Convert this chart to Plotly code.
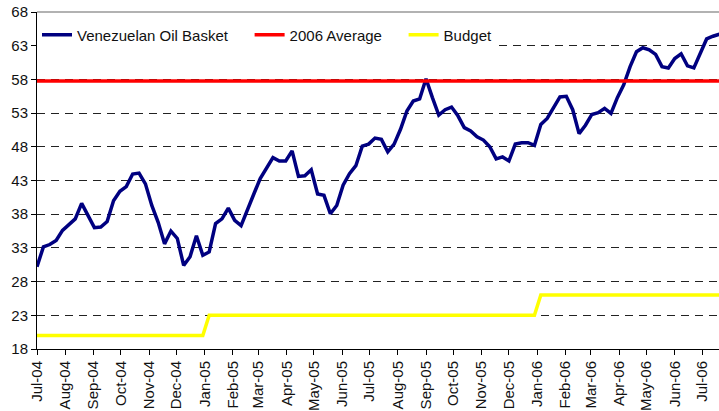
import pandas as pd
import plotly.graph_objects as go

# Weekly observations starting 2004-07-01
start_date = "2004-07-01"
oil_basket = [
    30.2, 33.15, 33.5, 34.1, 35.6, 36.5, 37.3, 39.6, 37.8, 36.0,
    36.1, 36.9, 40.0, 41.4, 42.1, 43.96, 44.1, 42.5, 39.3, 36.8,
    33.6, 35.5, 34.4, 30.4, 31.7, 34.8, 31.9, 32.4, 36.6, 37.3,
    38.9, 37.1, 36.3, 38.5, 41.0, 43.3, 44.8, 46.4, 45.9, 45.9,
    47.4, 43.6, 43.7, 44.6, 41.0, 40.8, 38.06, 39.3, 42.3, 44.0,
    45.2, 48.1, 48.4, 49.3, 49.1, 47.25, 48.4, 50.6, 53.3, 54.8,
    55.1, 58.1, 55.3, 52.7, 53.5, 53.9, 52.6, 50.85, 50.35, 49.5,
    49.0, 48.0, 46.2, 46.5, 45.9, 48.4, 48.6, 48.6, 48.2, 51.3,
    52.2, 53.8, 55.4, 55.5, 53.5, 49.96, 51.2, 52.8, 53.05, 53.7,
    52.95, 55.3, 57.2, 59.9, 62.1, 62.7, 62.4, 61.7, 59.9, 59.7,
    61.1, 61.8, 60.0, 59.7, 61.9, 64.0, 64.4, 64.7,
]
avg_2006 = [57.75] * len(oil_basket)
budget = [20.0] * 27 + [23.0] * 52 + [26.0] * 29

series_names = ["Venezuelan Oil Basket", "2006 Average", "Budget"]

tick_dates = pd.date_range("2004-07-01", "2006-07-01", freq="MS")
tick_labels = [d.strftime("%b-%y") for d in tick_dates]
y_ticks = [18, 23, 28, 33, 38, 43, 48, 53, 58, 63, 68]

dates = pd.date_range(start_date, periods=len(oil_basket), freq="7D")

pad = "\u00a0" * 4
fig = go.Figure()
fig.add_trace(go.Scatter(x=dates, y=oil_basket, mode="lines", name=series_names[0] + pad,
                         line=dict(color="#000080", width=3.5)))
fig.add_trace(go.Scatter(x=dates, y=avg_2006, mode="lines", name=series_names[1] + pad,
                         line=dict(color="#FF0000", width=3.5)))
fig.add_trace(go.Scatter(x=dates, y=budget, mode="lines", name=series_names[2],
                         line=dict(color="#FFFF00", width=3.5)))

font = dict(family="Liberation Sans, Arial, sans-serif", size=15, color="#111")

fig.update_layout(
    width=719, height=411,
    margin=dict(l=37, r=0, t=12, b=60),
    paper_bgcolor="white", plot_bgcolor="white",
    font=font,
    showlegend=True,
    legend=dict(orientation="h", x=0, xanchor="left", y=0.932, yanchor="middle",
                bgcolor="white", font=font, tracegroupgap=0, itemwidth=30),
    xaxis=dict(type="date", range=["2004-07-01", "2006-07-19 14:00"],
               tickvals=list(tick_dates), ticktext=tick_labels, tickangle=-90,
               ticks="outside", ticklen=5, tickcolor="black", showgrid=False,
               showline=True, linecolor="black", linewidth=1, zeroline=False,
               tickfont=font),
    yaxis=dict(range=[18, 68], tickvals=y_ticks, ticks="outside", ticklen=5,
               tickcolor="black", showline=True, linecolor="black", linewidth=1,
               showgrid=True, gridcolor="#222", gridwidth=1, griddash="8px,6px",
               zeroline=False, tickfont=font),
    shapes=[dict(type="line", xref="paper", yref="paper", x0=0, x1=1, y0=1, y1=1,
                 line=dict(color="#999", width=1.5))],
)

fig.write_html("out.html", config={"displayModeBar": False},
               post_script="document.body.style.margin='0';")
